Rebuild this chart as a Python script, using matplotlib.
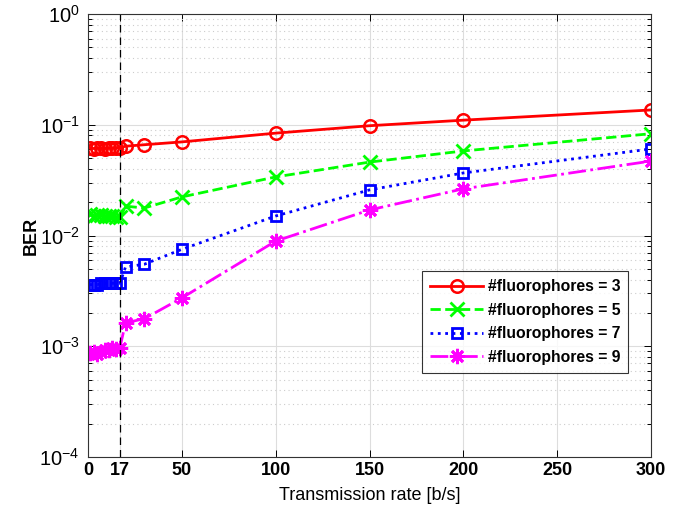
import matplotlib
matplotlib.use("Agg")
import matplotlib.pyplot as plt
from matplotlib.ticker import LogLocator, NullFormatter

plt.rcParams['font.family'] = ['Liberation Sans', 'DejaVu Sans']
plt.rcParams['mathtext.fontset'] = 'custom'
plt.rcParams['mathtext.rm'] = 'Liberation Sans:bold'
plt.rcParams['mathtext.bf'] = 'Liberation Sans:bold'
plt.rcParams['mathtext.default'] = 'bf'

rates = [1, 3, 5, 7, 9, 11, 13, 15, 17, 20, 30, 50, 100, 150, 200, 300]
ber_3 = [0.062, 0.061, 0.062, 0.062, 0.061, 0.062, 0.062, 0.062, 0.062, 0.064, 0.066, 0.070, 0.084, 0.098, 0.110, 0.136]
ber_5 = [0.0155, 0.0150, 0.0153, 0.0152, 0.0150, 0.0151, 0.0149, 0.0148, 0.0146, 0.0184, 0.0177, 0.0223, 0.0338, 0.046, 0.058, 0.083]
ber_7 = [0.0036, 0.0036, 0.0036, 0.0037, 0.0037, 0.0037, 0.0037, 0.0037, 0.0037, 0.0052, 0.0055, 0.0075, 0.0150, 0.0258, 0.0367, 0.0605]
ber_9 = [0.00087, 0.00088, 0.00086, 0.00089, 0.00092, 0.00093, 0.00096, 0.00095, 0.00097, 0.00163, 0.00177, 0.00273, 0.0089, 0.0170, 0.0264, 0.047]
labels = ['#fluorophores = 3', '#fluorophores = 5', '#fluorophores = 7', '#fluorophores = 9']
xticks = [0, 17, 50, 100, 150, 200, 250, 300]
marker_line = 17

fig = plt.figure(figsize=(6.74, 5.16), dpi=100)
ax = fig.add_axes([88/674, 1-457/516, (651-88)/674, (457-14)/516])

ax.semilogy(rates, ber_3, '-', color='red', marker='o', mfc='none', ms=9, mew=1.8, lw=2, label=labels[0])
ax.semilogy(rates, ber_5, '--', color='#00ff00', marker='x', ms=10, mew=2, lw=2, label=labels[1])
ax.semilogy(rates, ber_7, ':', color='blue', marker='s', mfc='none', ms=7.5, mew=2, lw=2, label=labels[2])
ax.semilogy(rates, ber_9, '-.', color='magenta', marker=(8, 2, 0), ms=11, mew=2, lw=2, label=labels[3])
ax.axvline(marker_line, color='black', ls=(0, (6, 4)), lw=0.9)

ax.set_xlim(0, 300)
ax.set_ylim(1e-4, 1)
ax.set_xticks(xticks)
ax.yaxis.set_major_locator(LogLocator(base=10, numticks=10))
ax.yaxis.set_minor_locator(LogLocator(base=10, subs=range(2, 10), numticks=20))
ax.yaxis.set_minor_formatter(NullFormatter())

ax.grid(True, which='major', color='#dddddd', lw=0.8)
ax.grid(True, which='minor', axis='y', color='#cccccc', ls=(0, (1, 3)), lw=0.8)
ax.set_axisbelow(True)

ax.tick_params(which='both', direction='in', top=True, right=True, width=0.7)
ax.tick_params(axis='x', labelsize=13)
ax.tick_params(axis='y', labelsize=14.5, pad=6)
ax.tick_params(which='major', length=5)
ax.tick_params(which='minor', length=3)
for lab in ax.get_xticklabels():
    lab.set_fontweight('bold')
for sp in ax.spines.values():
    sp.set_linewidth(0.8)
    sp.set_color('#333333')

ax.set_xlabel('Transmission rate [b/s]', fontsize=13, labelpad=6)
ax.set_ylabel('BER', fontsize=13, fontweight='bold', labelpad=0)

leg = ax.legend(loc='lower right', bbox_to_anchor=(0.96, 0.19), fancybox=False,
                edgecolor='black', prop={'size': 11.3, 'weight': 'bold'}, handlelength=3.4,
                borderpad=0.5, labelspacing=0.55, handletextpad=0.3, borderaxespad=0)
leg.get_frame().set_linewidth(0.8)

fig.savefig('out.png', dpi=100)
